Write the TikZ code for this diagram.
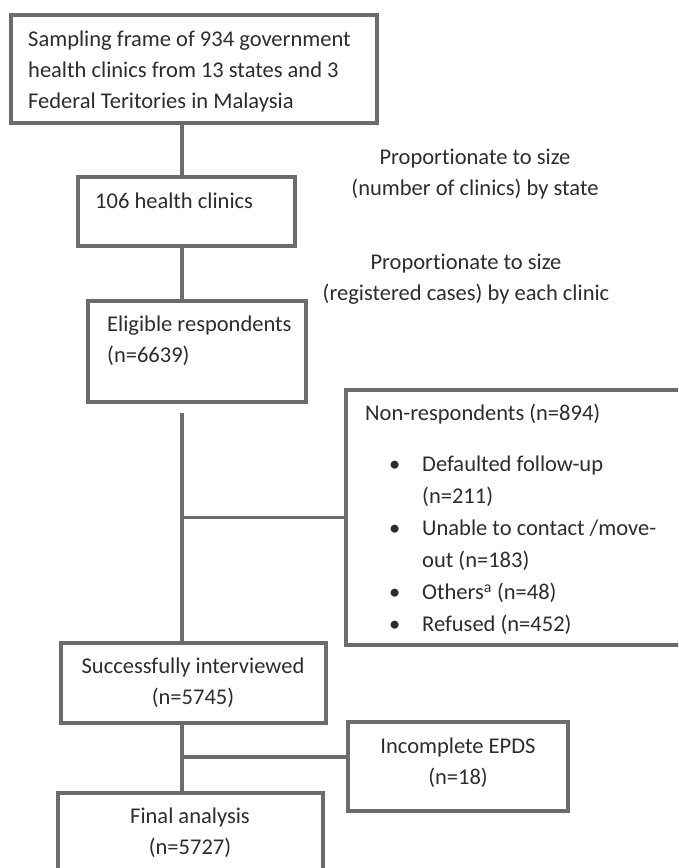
\documentclass[tikz,border=0pt]{standalone}
\usepackage{fontspec}
\setmainfont{Carlito}[Ligatures=NoCommon]
\definecolor{linegray}{RGB}{108,108,108}
\definecolor{txtgray}{RGB}{45,45,45}
\begin{document}
\begin{tikzpicture}[x=1pt,y=-1pt,
  boxnode/.style={draw=linegray,line width=3.5pt,rectangle,inner sep=0pt,minimum width=#1},
  conn/.style={draw=linegray,line width=3.5pt},
  txt/.style={inner sep=0pt,text=txtgray,font=\fontsize{22.5}{31}\selectfont},
  lbl/.style={txt,align=center,anchor=north},
  ltxt/.style={txt,align=left,anchor=north west},
  ctxt/.style={txt,align=center,anchor=north}]
\useasboundingbox (0,0) rectangle (678,868);
\clip (0,0) rectangle (678,868);
\fill[white] (0,0) rectangle (678,868);
% boxes
\node[boxnode=366pt,minimum height=108pt] (b1) at (194,69) {};
\node[boxnode=217pt,minimum height=69pt] (b2) at (186.5,211.5) {};
\node[boxnode=218pt,minimum height=101pt] (b3) at (197,351.5) {};
\node[boxnode=354pt,minimum height=255pt] (nr) at (523,517.5) {};
\node[boxnode=265pt,minimum height=80pt] (b4) at (193.5,683) {};
\node[boxnode=220pt,minimum height=89pt] (inc) at (458,766.5) {};
\node[boxnode=265pt,minimum height=107pt] (b5) at (190.5,846.5) {};
% spine
\coordinate (sp) at (182,0);
\coordinate (s3) at (182,413);
\coordinate (j2) at (182,757);
\draw[conn] (b1.south -| sp) -- (b2.north -| sp);
\draw[conn] (b2.south -| sp) -- (b3.north -| sp);
\draw[conn] (s3) -- (b4.north -| sp);
\draw[conn] (nr.west -| sp) -- (nr.west);
\draw[conn] (b4.south -| sp) -- (b5.north -| sp);
\draw[conn] (j2) -- (j2 -| inc.west);
% texts
\node[ltxt] (t1) at (28,31) {Sampling frame of 934 government\\health clinics from 13 states and 3\\Federal Teritories in Malaysia};
\node[ltxt] (t2) at (95,193) {106 health clinics};
\node[ltxt] (t3) at (107,316) {Eligible respondents\\(n=6639)};
\node[lbl] (l1) at (475,149) {Proport\kern0pt ionate to size\\(number of clinics) by state};
\node[lbl] (l2) at (466,254) {Proport\kern0pt ionate to size\\(registered cases) by each clinic};
\node[ltxt] (tnr) at (365,404) {Non-respondents (n=894)};
\node[ltxt,font=\fontsize{22.5}{32}\selectfont] (tlist) at (422,456) {%
\llap{\makebox[33pt][l]{\textbullet}}Defaulted follow-up\\
(n=211)\\
\llap{\makebox[33pt][l]{\textbullet}}Unable to contact /move-\\
out (n=183)\\
\llap{\makebox[33pt][l]{\textbullet}}Others\textsuperscript{a} (n=48)\\
\llap{\makebox[33pt][l]{\textbullet}}Refused (n=452)};
\node[ctxt] (t4) at (193,658) {Successfully interviewed\\(n=5745)};
\node[ctxt] (tinc) at (458,738) {Incomplete EPDS\\(n=18)};
\node[ctxt] (t5) at (190,808) {Final analysis\\(n=5727)};
\end{tikzpicture}
\end{document}
